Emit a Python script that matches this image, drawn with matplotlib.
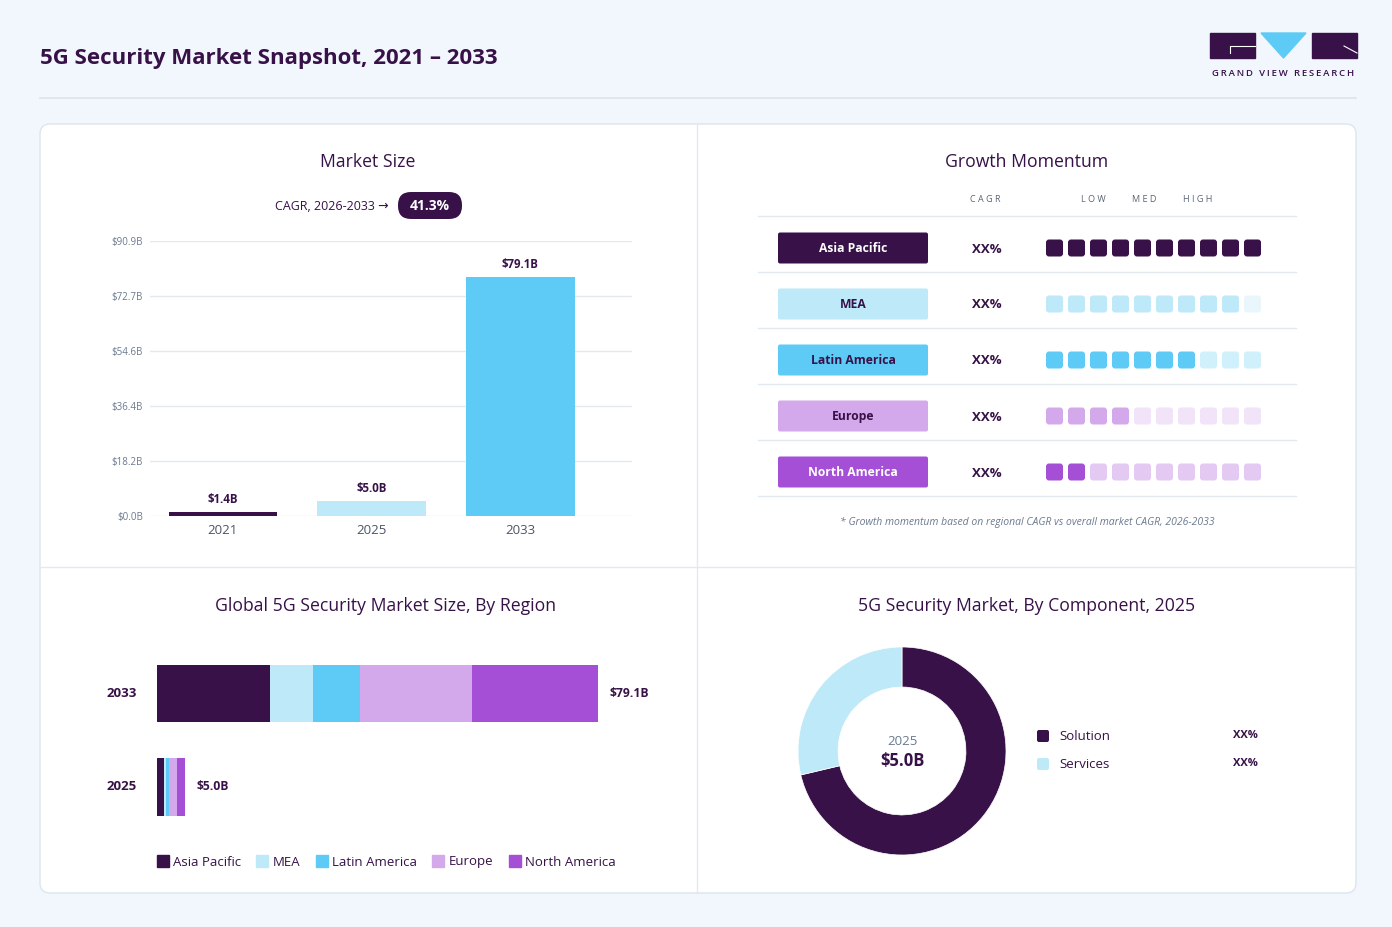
import matplotlib
matplotlib.use("Agg")
import matplotlib.pyplot as plt
from matplotlib.patches import FancyBboxPatch, Rectangle, Polygon
from matplotlib.lines import Line2D

plt.rcParams['font.family'] = ['Open Sans', 'DejaVu Sans']

# ---- data ----
years = ["2021", "2025", "2033"]
market_size = [1.4, 5.0, 79.1]
size_labels = ["$1.4B", "$5.0B", "$79.1B"]
y_ticks = [0.0, 18.18, 36.36, 54.54, 72.72, 90.9]
y_tick_labels = ["$0.0B", "$18.2B", "$36.4B", "$54.6B", "$72.7B", "$90.9B"]
cagr_text = "41.3%"

regions = ["Asia Pacific", "MEA", "Latin America", "Europe", "North America"]
momentum_filled = [10, 9, 7, 4, 2]
momentum_cagr = ["XX%", "XX%", "XX%", "XX%", "XX%"]

region_years = ["2025", "2033"]
region_2025 = [1.2, 0.5, 0.4, 1.4, 1.5]
region_2033 = [20.3, 7.6, 8.6, 20.0, 22.6]
region_totals = ["$5.0B", "$79.1B"]

components = ["Solution", "Services"]
component_share = [71.3, 28.7]
component_labels = ["XX%", "XX%"]

# ---- colours ----
DARK = "#371148"
region_colors = ["#371148", "#BDE9F9", "#5ECBF6", "#D4A9EB", "#A44FD6"]
region_empty = ["#E6DDEB", "#E9F7FD", "#D0F0FC", "#F1E3F8", "#E4C9F2"]
label_text = ["white", DARK, DARK, DARK, "white"]
BG = "#F1F7FD"
GRID = "#E3E9F0"
GRAY = "#6B7A90"

W, H = 1392, 927
fig = plt.figure(figsize=(W / 100, H / 100), dpi=100, facecolor=BG)

# background axes in pixel coordinates
bg = fig.add_axes([0, 0, 1, 1])
bg.set_xlim(0, W)
bg.set_ylim(H, 0)
bg.axis("off")
bg.set_zorder(0)

def fx(px):
    return px / W

def fy(py):
    return 1 - py / H

def spaced(s, sep="\u200a"):
    return sep.join(s)

# header
bg.text(40, 58, "5G Security Market Snapshot, 2021 \u2013 2033", fontsize=16,
        fontweight="bold", color=DARK, va="center", ha="left")
bg.plot([40, 1356], [98, 98], color="#DCE3EB", lw=1.2)

# logo
bg.add_patch(Rectangle((1210, 33), 45, 25, color=DARK))
bg.add_patch(Polygon([(1261, 33), (1306, 33), (1283.5, 58)], closed=True, color="#5ECBF6"))
bg.add_patch(Rectangle((1312, 33), 45, 25, color=DARK))
bg.plot([1230, 1230, 1255], [53, 46, 46], color="white", lw=0.8)
bg.plot([1344, 1357], [46, 53], color="white", lw=0.8)
bg.text(1283.5, 73, spaced("GRAND VIEW RESEARCH", "\u2009"), fontsize=6.8, fontweight="semibold",
        color=DARK, ha="center", va="center")

# card
bg.add_patch(FancyBboxPatch((40, 124), 1316, 769, boxstyle="round,pad=0,rounding_size=10",
                            facecolor="white", edgecolor="#DDE5EE", lw=1))
bg.plot([697, 697], [124, 893], color="#E3E9F0", lw=1)
bg.plot([40, 1356], [567, 567], color="#E3E9F0", lw=1)

# panel titles
for x, y, t in [(368, 162, "Market Size"), (1027, 162, "Growth Momentum"),
                (386, 606, "Global 5G Security Market Size, By Region"),
                (1027, 606, "5G Security Market, By Component, 2025")]:
    bg.text(x, y, t, fontsize=12.7, color=DARK, ha="center", va="center")

# ---- Market size bar chart ----
ax1 = fig.add_axes([fx(150), fy(516), fx(632) - fx(150), fy(241) - fy(516)])
ax1.set_zorder(1)
ax1.patch.set_alpha(0)
xpos = range(len(years))
ax1.bar(xpos, market_size, width=0.73, color=["#371148", "#BDE9F9", "#5ECBF6"], zorder=3)
for i, v in enumerate(market_size):
    ax1.text(i, v + 4.0, size_labels[i], ha="center", va="center", fontsize=8.3,
             fontweight="bold", color=DARK)
ax1.set_ylim(0, 90.9)
ax1.set_xlim(-0.49, 2.75)
ax1.set_yticks(y_ticks)
ax1.set_yticklabels(y_tick_labels, fontsize=7, color=GRAY)
ax1.set_xticks(list(xpos))
ax1.set_xticklabels(years, fontsize=9.5, color="#4A5568")
ax1.tick_params(length=0, pad=5)
ax1.tick_params(axis="x", pad=6)
ax1.grid(axis="y", color=GRID, lw=1, zorder=0)
ax1.set_axisbelow(True)
for s in ax1.spines.values():
    s.set_visible(False)

# CAGR pill
bg.text(389, 206, "CAGR, 2026-2033 \u2192", fontsize=9, color=DARK, ha="right", va="center")
bg.add_patch(FancyBboxPatch((398, 192), 64, 27, boxstyle="round,pad=0,rounding_size=13",
                            facecolor=DARK, edgecolor="none"))
bg.text(430, 206, cagr_text, fontsize=10, fontweight="bold", color="white",
        ha="center", va="center")

# ---- Growth momentum table ----
for x, t in [(985, "CAGR"), (1093, "LOW"), (1144, "MED"), (1198, "HIGH")]:
    bg.text(x, 199, spaced(t, " "), fontsize=6.5, color="#5A6578", ha="center", va="center")
row_h = 56
top = 216
bg.plot([758, 1296], [top, top], color=GRID, lw=1)
for r, name in enumerate(regions):
    cy = top + row_h * r + 32
    bg.plot([758, 1296], [top + row_h * (r + 1)] * 2, color=GRID, lw=1)
    bg.add_patch(FancyBboxPatch((778, cy - 15.5), 150, 31, boxstyle="round,pad=0,rounding_size=2",
                                facecolor=region_colors[r], edgecolor="none"))
    bg.text(853, cy, name, fontsize=8.7, fontweight="bold", color=label_text[r],
            ha="center", va="center")
    bg.text(987, cy + 1, momentum_cagr[r], fontsize=9.5, fontweight="bold", color=DARK,
            ha="center", va="center")
    for k in range(10):
        c = region_colors[r] if k < momentum_filled[r] else region_empty[r]
        bg.add_patch(FancyBboxPatch((1046 + 22 * k, cy - 8.5), 17, 17,
                                    boxstyle="round,pad=0,rounding_size=3",
                                    facecolor=c, edgecolor="none"))
bg.text(1027, 522, "* Growth momentum based on regional CAGR vs overall market CAGR, 2026-2033",
        fontsize=7.5, style="italic", color=GRAY, ha="center", va="center")

# ---- Region stacked bar ----
ax2 = fig.add_axes([fx(157), fy(831), fx(657) - fx(157), fy(651) - fy(831)])
ax2.set_zorder(1)
ax2.patch.set_alpha(0)
stack = [region_2025, region_2033]
for yi, vals in enumerate(stack):
    left = 0
    for j, v in enumerate(vals):
        ax2.barh(yi, v, left=left, height=0.613, color=region_colors[j], edgecolor="none")
        left += v
    ax2.text(left + 2.0, yi, region_totals[yi], fontsize=8.7, fontweight="bold", color=DARK,
             ha="left", va="center")
    ax2.text(-6.4, yi, region_years[yi], fontsize=9.5, fontweight="bold", color=DARK,
             ha="center", va="center")
ax2.set_xlim(0, 500 / 5.575)
ax2.set_ylim(-0.473, 1.462)
ax2.axis("off")

handles = [Line2D([], [], marker="s", linestyle="none", markersize=8, color=c) for c in region_colors]
fig.legend(handles, regions, loc="center", bbox_to_anchor=(fx(386), fy(862)), ncol=5,
           frameon=False, fontsize=9.5, handletextpad=0.3, columnspacing=1.1,
           labelcolor=DARK, handlelength=1.0)

# ---- Component donut ----
r_out = 104
ax3 = fig.add_axes([fx(902 - r_out), fy(751 + r_out), 2 * r_out / W, 2 * r_out / H])
ax3.set_zorder(1)
ax3.pie(component_share, colors=["#371148", "#BDE9F9"], startangle=90, counterclock=False,
        wedgeprops=dict(width=0.385, edgecolor="white", linewidth=0.5), radius=1)
ax3.set_xlim(-1, 1)
ax3.set_ylim(-1, 1)
ax3.set_aspect("equal")
ax3.text(0, 0.09, "2025", fontsize=9.5, color=GRAY, ha="center", va="center")
ax3.text(0, -0.1, "$5.0B", fontsize=12, fontweight="bold", color=DARK, ha="center", va="center")

for i, comp in enumerate(components):
    cy = 736 + 28 * i
    bg.add_patch(FancyBboxPatch((1037, cy - 6), 12, 12, boxstyle="round,pad=0,rounding_size=2",
                                facecolor=["#371148", "#BDE9F9"][i], edgecolor="none"))
    bg.text(1059, cy + 1, comp, fontsize=9.5, color=DARK, ha="left", va="center")
    bg.text(1245, cy, component_labels[i], fontsize=8, fontweight="bold", color=DARK,
            ha="center", va="center")

fig.savefig("out.png", dpi=100, facecolor=BG)
